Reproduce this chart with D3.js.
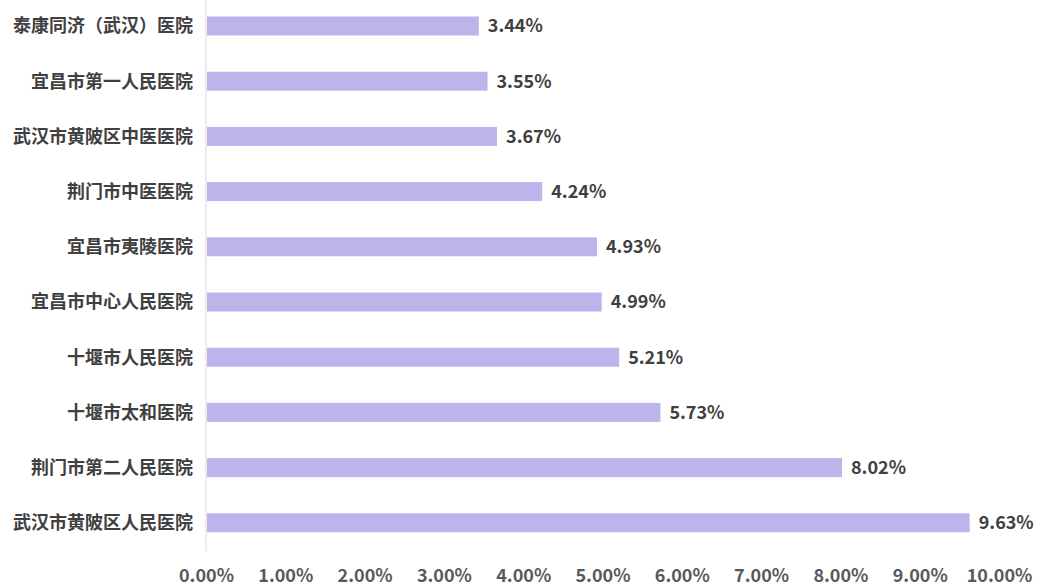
<!DOCTYPE html>
<html><head><meta charset="utf-8">
<script src="https://cdn.jsdelivr.net/npm/d3@7"></script>
<style>
body{margin:0;background:#fff;}
svg{display:block;}
text{font-family:"Noto Sans CJK SC","Noto Sans",sans-serif;}
</style></head>
<body><svg id="c" width="1038" height="588"></svg>
<script>
const categories = ["泰康同济（武汉）医院","宜昌市第一人民医院","武汉市黄陂区中医医院","荆门市中医医院","宜昌市夷陵医院","宜昌市中心人民医院","十堰市人民医院","十堰市太和医院","荆门市第二人民医院","武汉市黄陂区人民医院"];
const values = [3.44,3.55,3.67,4.24,4.93,4.99,5.21,5.73,8.02,9.63];
const tickValues = [0,1,2,3,4,5,6,7,8,9,10];

const svg = d3.select("#c");
const x = d3.scaleLinear().domain([0,10]).range([206,999]);
const y = d3.scaleBand().domain(categories).range([-1.6,550.4]).paddingInner(0.656).paddingOuter(0.328);

svg.append("line").attr("x1",x(0)).attr("x2",x(0)).attr("y1",0).attr("y2",551)
  .attr("stroke","#d9d9d9").attr("stroke-width",1);

svg.selectAll("rect.bar").data(values).enter().append("rect")
  .attr("class","bar")
  .attr("x",x(0)+1)
  .attr("y",(d,i)=>y(categories[i]))
  .attr("width",d=>x(d)-x(0)-1)
  .attr("height",y.bandwidth())
  .attr("fill","#bcb5ec");

svg.selectAll("text.val").data(values).enter().append("text")
  .attr("class","val")
  .attr("x",d=>x(d)+9)
  .attr("y",(d,i)=>y(categories[i])+y.bandwidth()/2)
  .attr("dy","0.36em")
  .attr("font-size",18).attr("font-weight","bold").attr("fill","#404040")
  .text(d=>d.toFixed(2)+"%");

svg.selectAll("text.cat").data(categories).enter().append("text")
  .attr("class","cat")
  .attr("x",193)
  .attr("y",d=>y(d)+y.bandwidth()/2)
  .attr("dy","0.36em")
  .attr("text-anchor","end")
  .attr("font-size",18).attr("font-weight","bold").attr("fill","#404040")
  .text(d=>d);

const axis = d3.axisBottom(x).tickValues(tickValues).tickSize(0).tickFormat(d=>d.toFixed(2)+"%");
const g = svg.append("g").attr("transform","translate(0,566)").call(axis);
g.select(".domain").remove();
g.selectAll("text").attr("font-size",18).attr("font-weight","bold").attr("fill","#595959")
  .attr("font-family",'"Noto Sans CJK SC","Noto Sans",sans-serif');
</script></body></html>
